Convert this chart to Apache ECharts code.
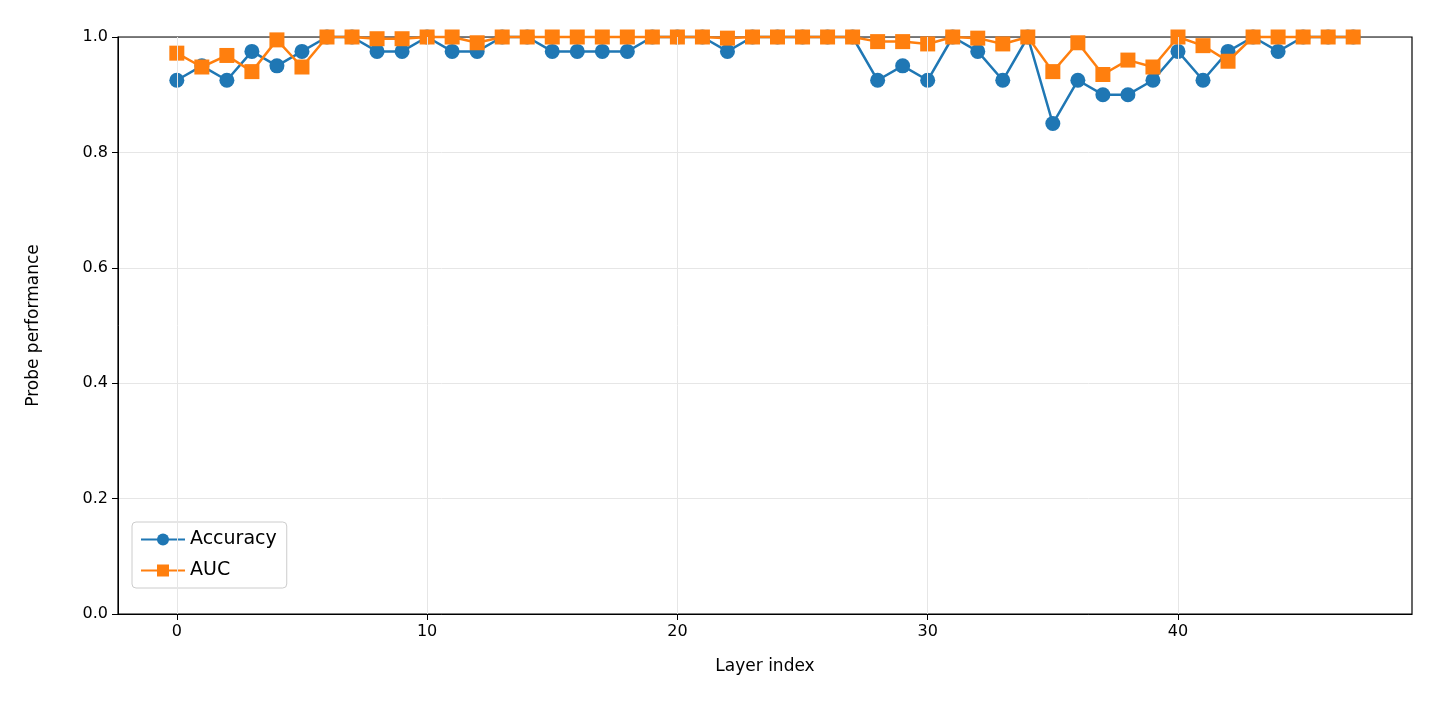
<!DOCTYPE html>
<html>
<head>
<meta charset="utf-8">
<script src="https://cdn.jsdelivr.net/npm/echarts@6/dist/echarts.min.js"></script>
<style>html,body{margin:0;padding:0;background:#fff}#main{width:1440px;height:720px}</style>
</head>
<body>
<div id="main"></div>
<script>
var layers = [];
for (var i = 0; i < 48; i++) layers.push(i);
var xTicks = [0, 10, 20, 30, 40];
var accuracy = [0.925,0.95,0.925,0.975,0.95,0.975,1,1,0.975,0.975,1,0.975,0.975,1,1,0.975,
  0.975,0.975,0.975,1,1,1,0.975,1,1,1,1,1,0.925,0.95,0.925,1,0.975,0.925,1,0.85,
  0.925,0.9,0.9,0.925,0.975,0.925,0.975,1,0.975,1,1,1];
var auc = [0.972,0.948,0.968,0.94,0.995,0.948,1,1,0.997,0.997,1,1,0.99,1,1,1,
  1,1,1,1,1,1,0.998,1,1,1,1,1,0.992,0.992,0.988,1,0.998,0.988,1,0.94,
  0.99,0.935,0.96,0.948,1,0.985,0.958,1,1,1,1,1];

var chart = echarts.init(document.getElementById('main'));
var font = 'DejaVu Sans';
function pairs(arr) { return arr.map(function (v, i) { return [layers[i], v]; }); }
chart.setOption({
  animation: false,
  grid: {left: 118, right: 28, top: 37, bottom: 106},
  legend: {
    left: 132, top: 522, orient: 'vertical', itemWidth: 44, itemHeight: 15, itemGap: 12,
    textStyle: {fontFamily: font, fontSize: 19, color: '#000'},
    borderColor: '#ccc', borderWidth: 1, borderRadius: 4, padding: [8, 10, 8, 8],
    data: ['Accuracy', 'AUC']
  },
  xAxis: {
    type: 'value', min: -2.35, max: 49.35,
    name: 'Layer index', nameLocation: 'middle', nameGap: 44,
    nameTextStyle: {fontFamily: font, fontSize: 17, color: '#000'},
    axisLine: {show: true, onZero: false, lineStyle: {color: '#000'}},
    axisTick: {show: true, customValues: xTicks, length: 6, lineStyle: {color: '#000'}},
    axisLabel: {customValues: xTicks, fontFamily: font, fontSize: 16, color: '#000', margin: 10},
    splitLine: {show: false}
  },
  yAxis: {
    type: 'value', min: 0, max: 1, interval: 0.2,
    name: 'Probe performance', nameLocation: 'middle', nameGap: 76,
    nameTextStyle: {fontFamily: font, fontSize: 17, color: '#000'},
    axisLine: {show: true, onZero: false, lineStyle: {color: '#000'}},
    axisTick: {show: true, length: 6, lineStyle: {color: '#000'}},
    axisLabel: {fontFamily: font, fontSize: 16, color: '#000', margin: 10,
      formatter: function (v) { return v.toFixed(1); }},
    splitLine: {lineStyle: {color: '#e6e6e6'}}
  },
  series: [
    {name: 'Accuracy', type: 'line', data: pairs(accuracy), symbol: 'circle', symbolSize: 15,
      clip: false, itemStyle: {color: '#1f77b4'}, lineStyle: {width: 2.5, color: '#1f77b4'}, z: 3},
    {name: 'AUC', type: 'line', data: pairs(auc), symbol: 'rect', symbolSize: 15,
      clip: false, itemStyle: {color: '#ff7f0e'}, lineStyle: {width: 2.5, color: '#ff7f0e'}, z: 4},
    {type: 'line', data: [], markLine: {silent: true, symbol: 'none', label: {show: false},
      lineStyle: {color: '#e6e6e6', type: 'solid', width: 1},
      data: xTicks.map(function (t) { return {xAxis: t}; })}}
  ],
  graphic: [{type: 'rect', shape: {x: 118, y: 37, width: 1294, height: 577},
    style: {fill: 'none', stroke: '#000', lineWidth: 1.2}, z: 1, silent: true}]
});
</script>
</body>
</html>
